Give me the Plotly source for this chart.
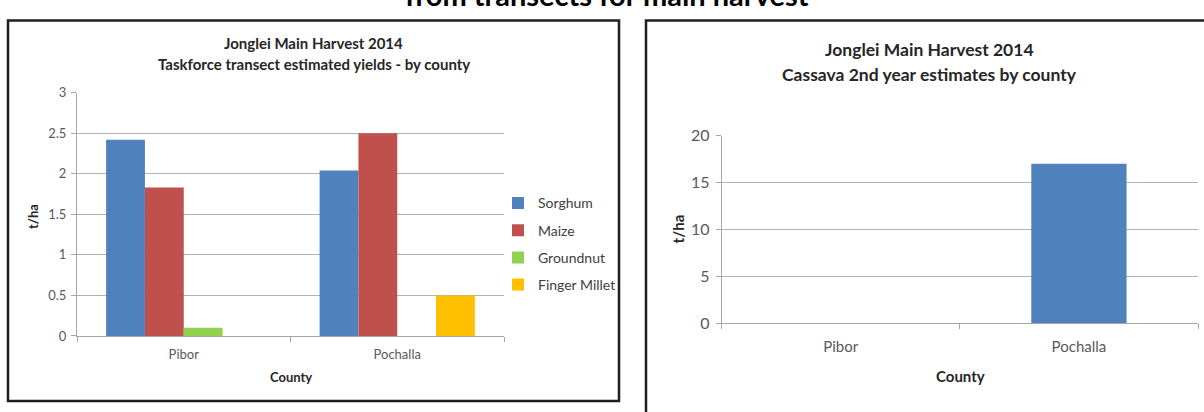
import plotly.graph_objects as go

# Crop yields by county (t/ha), Jonglei main harvest 2014
counties = ["Pibor", "Pochalla"]
sorghum = [2.42, 2.04]
maize = [1.83, 2.50]
groundnut = [0.10, None]
finger_millet = [None, 0.50]

# Cassava 2nd year estimates (t/ha)
cassava = [None, 17.0]

crop_names = ["Sorghum", "Maize", "Groundnut", "Finger Millet"]
crop_colors = ["#4F81BD", "#C0504D", "#92D050", "#FFC000"]

W, H = 1204, 412
FONT = "Lato, Carlito, Calibri, sans-serif"
TICK_COLOR = "#595959"
GRID = "#b3b3b3"
AXIS = "#a6a6a6"


def px_x(x):
    return x / W


def px_y(y):
    return 1 - y / H


fig = go.Figure()

for name, vals, color in zip(crop_names, [sorghum, maize, groundnut, finger_millet], crop_colors):
    fig.add_trace(go.Bar(
        x=counties, y=vals, name=name, marker_color=color,
        marker_line_width=0, xaxis="x", yaxis="y",
        legendgroup=name,
    ))

fig.add_trace(go.Bar(
    x=counties, y=cassava, name="Cassava", marker_color="#4F81BD",
    marker_line_width=0, xaxis="x2", yaxis="y2", width=0.4,
    showlegend=False,
))


def axis_style(size, standoff=0):
    d = dict(
        showline=True, linecolor=AXIS, linewidth=1,
        ticks="outside", ticklen=5, tickcolor=AXIS,
        tickfont=dict(family=FONT, size=size, color=TICK_COLOR),
        zeroline=False,
    )
    if standoff:
        d["ticklabelstandoff"] = standoff
    return d


fig.update_layout(
    width=W, height=H,
    margin=dict(l=0, r=0, t=0, b=0),
    paper_bgcolor="white", plot_bgcolor="white",
    barmode="group", bargap=0.2727, bargroupgap=0,
    font=dict(family=FONT, color="#262626"),
    xaxis=dict(domain=[px_x(77), px_x(504)], anchor="y",
               type="category", categoryarray=counties, range=[-0.5, 1.5],
               tickson="boundaries", showgrid=False, **axis_style(13, 6)),
    yaxis=dict(domain=[px_y(341.7), px_y(86.7)], anchor="x",
               range=[0, 3], dtick=0.5, showgrid=True, gridcolor=GRID,
               gridwidth=1, **axis_style(13, 2)),
    xaxis2=dict(domain=[px_x(721.7), px_x(1198)], anchor="y2",
                type="category", categoryarray=counties, range=[-0.5, 1.5],
                tickson="boundaries", showgrid=False, **axis_style(15, 10)),
    yaxis2=dict(domain=[px_y(328.3), px_y(131.7)], anchor="x2",
                range=[0, 20], dtick=5, showgrid=True, gridcolor=GRID,
                gridwidth=1, **axis_style(16, 3)),
    legend=dict(x=px_x(498), y=px_y(186), xanchor="left", yanchor="top",
                font=dict(family=FONT, size=14, color="#404040"),
                tracegroupgap=6, itemwidth=30,
                bgcolor="rgba(0,0,0,0)"),
    showlegend=True,
)

# chart frames
fig.add_shape(type="rect", xref="paper", yref="paper",
              x0=px_x(8), x1=px_x(619), y0=px_y(410), y1=px_y(11),
              line=dict(color="#1f1f1f", width=2.5), fillcolor="rgba(0,0,0,0)")
fig.add_shape(type="rect", xref="paper", yref="paper",
              x0=px_x(646), x1=px_x(1220), y0=px_y(430), y1=px_y(11),
              line=dict(color="#1f1f1f", width=2.5), fillcolor="rgba(0,0,0,0)")

annotations = [
    # page heading running off the top edge
    dict(text="<b>from transects for main harvest</b>", x=px_x(607), y=px_y(-16),
         font=dict(family=FONT, size=29, color="#000000")),
    # left chart
    dict(text="<b>Jonglei Main Harvest 2014</b>", x=px_x(313.5), y=px_y(35),
         font=dict(family=FONT, size=15, color="#262626")),
    dict(text="<b>Taskforce transect estimated yields - by county</b>", x=px_x(313.5), y=px_y(57),
         font=dict(family=FONT, size=15, color="#262626")),
    dict(text="<b>County</b>", x=px_x(290.5), y=px_y(385),
         font=dict(family=FONT, size=13, color="#262626")),
    dict(text="<b>t/ha</b>", x=px_x(33), y=px_y(217), textangle=-90,
         font=dict(family=FONT, size=13, color="#262626")),
    # right chart
    dict(text="<b>Jonglei Main Harvest 2014</b>", x=px_x(929), y=px_y(41),
         font=dict(family=FONT, size=17.5, color="#262626")),
    dict(text="<b>Cassava 2nd year estimates by county</b>", x=px_x(929), y=px_y(68),
         font=dict(family=FONT, size=17.5, color="#262626")),
    dict(text="<b>County</b>", x=px_x(960), y=px_y(384),
         font=dict(family=FONT, size=15, color="#262626")),
    dict(text="<b>t/ha</b>", x=px_x(678), y=px_y(230), textangle=-90,
         font=dict(family=FONT, size=15, color="#262626")),
]
for a in annotations:
    fig.add_annotation(xref="paper", yref="paper", showarrow=False,
                       xanchor="center", yanchor="middle", **a)

fig.write_html("out.html")
